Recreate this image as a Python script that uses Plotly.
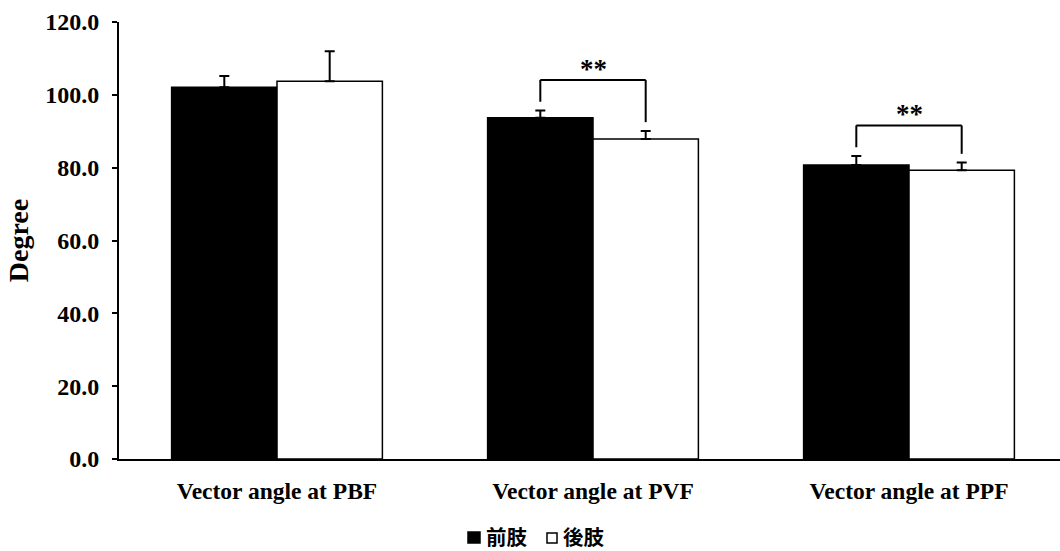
import plotly.graph_objects as go

# Vector angles (degrees) at three gait phases, forelimb vs hindlimb
categories = ["Vector angle at PBF", "Vector angle at PVF", "Vector angle at PPF"]
fore_mean = [102.1, 93.7, 80.7]
fore_sd = [3.1, 2.0, 2.5]
hind_mean = [103.7, 87.9, 79.3]
hind_sd = [8.3, 2.2, 2.1]
significance = ["", "**", "**"]
series_names = ["前肢", "後肢"]
y_ticks = [0, 20, 40, 60, 80, 100, 120]

SERIF = "Liberation Serif, Times New Roman, serif"
CJK = "Noto Sans CJK JP, sans-serif"

L, R, T, B = 119, 0, 22, 92
W, H = 1060, 551
plot_w = W - L - R
cat_px = 316.0          # width of one category band in pixels
half_bar = 0.3335       # one bar's width in category units

x_pos = list(range(len(categories)))

fig = go.Figure()
fig.add_trace(go.Bar(
    name=series_names[0], x=x_pos, y=fore_mean,
    marker=dict(color="#000000", line=dict(color="#000000", width=1.5)),
    error_y=dict(type="data", array=fore_sd, arrayminus=[0] * 3, symmetric=False,
                 color="#000000", thickness=2, width=5),
    showlegend=False,
))
fig.add_trace(go.Bar(
    name=series_names[1], x=x_pos, y=hind_mean,
    marker=dict(color="#ffffff", line=dict(color="#000000", width=1.5)),
    error_y=dict(type="data", array=hind_sd, arrayminus=[0] * 3, symmetric=False,
                 color="#000000", thickness=2, width=5),
    showlegend=False,
))

# Significance brackets between the two bars of a group
shapes = []
annotations = []
for i, mark in enumerate(significance):
    if not mark:
        continue
    x0 = i - half_bar / 2
    x1 = i + half_bar / 2
    top_f = fore_mean[i] + fore_sd[i]
    top_h = hind_mean[i] + hind_sd[i]
    level = max(top_f, top_h) + 8.4
    for xx, tp in ((x0, top_f), (x1, top_h)):
        shapes.append(dict(type="line", xref="x", yref="y", x0=xx, x1=xx,
                           y0=tp + 2.4, y1=level, line=dict(color="#000", width=2)))
    shapes.append(dict(type="line", xref="x", yref="y", x0=x0, x1=x1,
                       y0=level, y1=level, line=dict(color="#000", width=2)))
    annotations.append(dict(x=i, y=level, xref="x", yref="y", text=mark,
                            showarrow=False, yanchor="bottom", yshift=-6,
                            font=dict(family=SERIF, size=27, color="#000", weight="bold")))

# Legend drawn as swatches plus labels under the plot
def px_to_paper_x(px):
    return (px - L) / plot_w

def py_to_paper_y(py):
    return (H - B - py) / (H - T - B)

legend_items = [
    (468, 480, 532, 543, "#000000", 485),
    (547, 557, 533, 543, "#ffffff", 562),
]
for (sx0, sx1, sy0, sy1, fill, tx), label in zip(legend_items, series_names):
    shapes.append(dict(type="rect", xref="paper", yref="paper",
                       x0=px_to_paper_x(sx0), x1=px_to_paper_x(sx1),
                       y0=py_to_paper_y(sy1), y1=py_to_paper_y(sy0),
                       fillcolor=fill, line=dict(color="#000", width=1.5)))
    annotations.append(dict(x=px_to_paper_x(tx), y=py_to_paper_y(536),
                            xref="paper", yref="paper", text=label, showarrow=False,
                            xanchor="left", yanchor="middle", borderpad=0,
                            font=dict(family=CJK, size=20.5, color="#000", weight="bold")))

fig.update_layout(
    width=W, height=H,
    margin=dict(l=L, r=R, t=T, b=B, pad=0),
    paper_bgcolor="#ffffff", plot_bgcolor="#ffffff",
    barmode="group", bargap=1 - 2 * half_bar, bargroupgap=0,
    shapes=shapes, annotations=annotations,
    showlegend=False,
    xaxis=dict(
        range=[-0.5, -0.5 + plot_w / cat_px],
        tickvals=x_pos, ticktext=categories,
        showgrid=False, zeroline=False,
        showline=True, linecolor="#000", linewidth=2,
        ticks="", ticklabelstandoff=10,
        tickfont=dict(family=SERIF, size=23.5, color="#000", weight="bold"),
        fixedrange=True,
    ),
    yaxis=dict(
        range=[0, 120], tickvals=y_ticks, tickformat=".1f",
        showgrid=False, zeroline=False,
        showline=True, linecolor="#000", linewidth=2,
        ticks="outside", ticklen=5, tickwidth=1.5, tickcolor="#000",
        ticklabelstandoff=8,
        tickfont=dict(family=SERIF, size=24, color="#000", weight="bold"),
        title=dict(text="Degree", standoff=8,
                   font=dict(family=SERIF, size=28, color="#000", weight="bold")),
        fixedrange=True,
    ),
)

fig.write_html("out.html")
